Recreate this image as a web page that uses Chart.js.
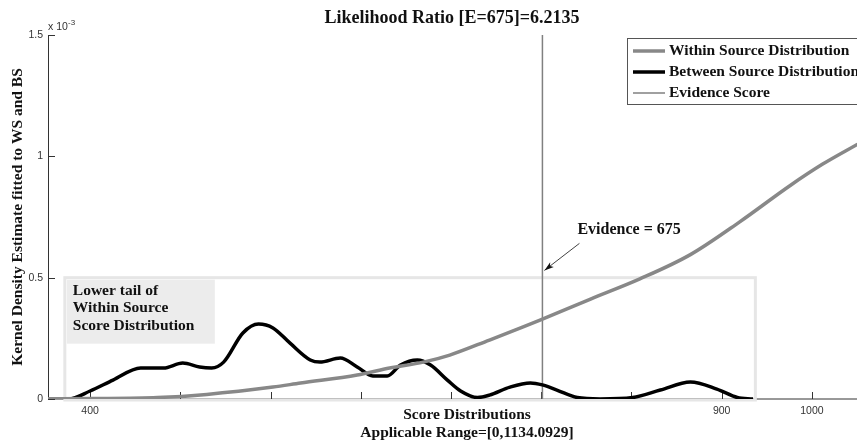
<!DOCTYPE html>
<html>
<head>
<meta charset="utf-8">
<script src="https://cdn.jsdelivr.net/npm/chart.js@4.4.1/dist/chart.umd.min.js"></script>
<style>
  html, body { margin: 0; padding: 0; background: #fff; }
  #wrap { width: 857px; height: 442px; }
</style>
</head>
<body>
<div id="wrap"><canvas id="kde"></canvas></div>
<script>
// values in units of 1e-3
const bsScores = [365, 382, 400, 419, 442, 461, 477, 491, 501, 511, 527, 540, 552, 566, 583, 591, 608, 622, 635, 647, 658, 672, 683, 697, 708, 722, 732, 749, 766, 776, 788, 805, 824, 851, 874, 899, 921, 938, 951];
const bsDensity = [0, 0, 0.033, 0.078, 0.128, 0.128, 0.148, 0.132, 0.128, 0.152, 0.272, 0.309, 0.293, 0.231, 0.161, 0.152, 0.169, 0.132, 0.095, 0.095, 0.140, 0.161, 0.140, 0.078, 0.033, 0.006, 0.016, 0.049, 0.066, 0.058, 0.037, 0.006, 0, 0.006, 0.037, 0.070, 0.041, 0.006, 0];

const wsScores = [365, 400, 456, 497, 552, 575, 622, 649, 677, 699, 732, 760, 774, 816, 857, 899, 940, 982, 1009, 1038];
const wsDensity = [0.001, 0.002, 0.006, 0.019, 0.049, 0.066, 0.099, 0.128, 0.152, 0.181, 0.243, 0.297, 0.325, 0.412, 0.495, 0.595, 0.730, 0.880, 0.968, 1.050];

const evidenceX = 776;
const evidenceText = 'Evidence = 675';

const xTickValues = [400, 475, 550, 625, 700, 775, 850, 925, 1000];
const xTickLabels = ['400', '', '', '', '', '', '', '900', '1000'];
const yTickValues = [0, 0.5, 1, 1.5];
const yTickLabels = ['0', '0.5', '1', '1.5'];

const tailBox = { xMin: 379, xMax: 953, yMax: 0.5 };

const SERIF = '"Liberation Serif", "Times New Roman", serif';
const SANS = '"Liberation Sans", Arial, sans-serif';

const toPoints = (xs, ys) => xs.map((x, i) => ({ x, y: ys[i] }));

const extras = {
    id: 'extras',
    beforeDatasetsDraw(chart) {
        const { ctx, chartArea: a, scales: { x, y } } = chart;
        ctx.save();
        // axes
        ctx.strokeStyle = '#333';
        ctx.lineWidth = 1;
        ctx.beginPath();
        ctx.moveTo(a.left + 0.5, a.top);
        ctx.lineTo(a.left + 0.5, a.bottom);
        ctx.lineTo(a.right, a.bottom);
        ctx.stroke();

        // lower tail box
        const bx0 = x.getPixelForValue(tailBox.xMin), bx1 = x.getPixelForValue(tailBox.xMax);
        const by0 = y.getPixelForValue(tailBox.yMax), by1 = y.getPixelForValue(0);
        ctx.strokeStyle = '#e6e6e6';
        ctx.lineWidth = 3;
        ctx.strokeRect(bx0, by0, bx1 - bx0, by1 - by0 + 1);
        ctx.fillStyle = '#ececec';
        ctx.fillRect(bx0 + 2, by0 + 2, 148, 64);
        ctx.fillStyle = '#111';
        ctx.font = 'bold 15.5px ' + SERIF;
        ctx.textAlign = 'left';
        ctx.textBaseline = 'middle';
        ['Lower tail of', 'Within Source', 'Score Distribution'].forEach((t, i) => {
            ctx.fillText(t, bx0 + 8, by0 + 13 + i * 17.5);
        });

        // inner ticks
        ctx.strokeStyle = '#333';
        ctx.lineWidth = 1;
        ctx.beginPath();
        yTickValues.forEach(v => {
            const py = Math.round(y.getPixelForValue(v)) + 0.5;
            ctx.moveTo(a.left, py);
            ctx.lineTo(a.left + 7, py);
        });
        xTickValues.forEach(v => {
            const px = Math.round(x.getPixelForValue(v)) + 0.5;
            ctx.moveTo(px, a.bottom);
            ctx.lineTo(px, a.bottom - 7);
        });
        ctx.stroke();
        ctx.restore();
    },
    afterDraw(chart) {
        const { ctx, chartArea: a, scales: { x, y } } = chart;
        ctx.save();
        ctx.fillStyle = '#111';
        ctx.textAlign = 'center';
        ctx.textBaseline = 'middle';

        ctx.font = 'bold 18px ' + SERIF;
        ctx.fillText('Likelihood Ratio [E=675]=6.2135', 452, 18);

        ctx.font = 'bold 15.5px ' + SERIF;
        ctx.fillText('Score Distributions', 467, 415);
        ctx.fillText('Applicable Range=[0,1134.0929]', 467, 433);

        ctx.save();
        ctx.translate(18, 217);
        ctx.rotate(-Math.PI / 2);
        ctx.font = 'bold 15.5px ' + SERIF;
        ctx.fillText('Kernel Density Estimate fitted to WS and BS', 0, 0);
        ctx.restore();

        // exponent
        ctx.fillStyle = '#333';
        ctx.textAlign = 'left';
        ctx.font = '10.5px ' + SANS;
        ctx.fillText('x 10', a.left, a.top - 8);
        ctx.font = '8px ' + SANS;
        ctx.fillText('-3', a.left + 20, a.top - 12);

        // evidence annotation
        const tipX = x.getPixelForValue(evidenceX) + 2;
        const tipY = y.getPixelForValue(0.53);
        const tailX = tipX + 35, tailY = tipY - 27;
        ctx.strokeStyle = '#111';
        ctx.fillStyle = '#111';
        ctx.lineWidth = 0.8;
        ctx.beginPath();
        ctx.moveTo(tailX, tailY);
        ctx.lineTo(tipX, tipY);
        ctx.stroke();
        const ang = Math.atan2(tipY - tailY, tipX - tailX);
        ctx.beginPath();
        ctx.moveTo(tipX, tipY);
        ctx.lineTo(tipX - 10 * Math.cos(ang - 0.3), tipY - 10 * Math.sin(ang - 0.3));
        ctx.lineTo(tipX - 7 * Math.cos(ang), tipY - 7 * Math.sin(ang));
        ctx.lineTo(tipX - 10 * Math.cos(ang + 0.3), tipY - 10 * Math.sin(ang + 0.3));
        ctx.closePath();
        ctx.fill();
        ctx.font = 'bold 16px ' + SERIF;
        ctx.textBaseline = 'middle';
        ctx.fillText(evidenceText, tipX + 33, tipY - 41);

        // legend
        const lx = 627, ly = 38;
        ctx.fillStyle = '#fff';
        ctx.fillRect(lx, ly, 240, 66);
        ctx.strokeStyle = '#555';
        ctx.lineWidth = 1;
        ctx.strokeRect(lx + 0.5, ly + 0.5, 240, 66);
        ctx.font = 'bold 15.5px ' + SERIF;
        chart.data.datasets.forEach((ds, i) => {
            const ry = ly + 13 + i * 21;
            ctx.strokeStyle = ds.borderColor;
            ctx.lineWidth = ds.borderWidth;
            ctx.beginPath();
            ctx.moveTo(lx + 6, ry);
            ctx.lineTo(lx + 38, ry);
            ctx.stroke();
            ctx.fillStyle = '#111';
            ctx.fillText(ds.label, lx + 42, ry);
        });
        ctx.restore();
    },
};

new Chart(document.getElementById('kde'), {
    type: 'line',
    data: {
        datasets: [
            {
                label: 'Within Source Distribution',
                data: toPoints(wsScores, wsDensity),
                borderColor: '#888888',
                borderWidth: 3.5,
                pointRadius: 0,
                cubicInterpolationMode: 'monotone',
            },
            {
                label: 'Between Source Distribution',
                data: toPoints(bsScores, bsDensity),
                borderColor: '#000000',
                borderWidth: 3.5,
                pointRadius: 0,
                cubicInterpolationMode: 'monotone',
            },
            {
                label: 'Evidence Score',
                data: [{ x: evidenceX, y: 0 }, { x: evidenceX, y: 1.5 }],
                borderColor: '#808080',
                borderWidth: 1.5,
                pointRadius: 0,
            },
        ],
    },
    options: {
        responsive: true,
        maintainAspectRatio: false,
        animation: false,
        layout: { padding: { top: 35, right: 0, bottom: 0, left: 0 } },
        plugins: {
            legend: { display: false },
            title: { display: false },
            tooltip: { enabled: false },
        },
        scales: {
            x: {
                type: 'linear',
                min: 365,
                max: 1037.5,
                grid: { display: false, drawTicks: false },
                border: { display: false },
                afterBuildTicks: (s) => { s.ticks = xTickValues.map(v => ({ value: v })); },
                afterFit: (s) => { s.height = 43; },
                ticks: {
                    autoSkip: false,
                    maxRotation: 0,
                    padding: 6,
                    color: '#333',
                    font: { family: SANS, size: 10.5 },
                    callback: (v, i) => xTickLabels[i],
                },
            },
            y: {
                min: 0,
                max: 1.5,
                grid: { display: false, drawTicks: false },
                border: { display: false },
                afterBuildTicks: (s) => { s.ticks = yTickValues.map(v => ({ value: v })); },
                afterFit: (s) => { s.width = 48; },
                ticks: {
                    padding: 5,
                    color: '#333',
                    font: { family: SANS, size: 10.5 },
                    callback: (v, i) => yTickLabels[i],
                },
            },
        },
    },
    plugins: [extras],
});
</script>
</body>
</html>
